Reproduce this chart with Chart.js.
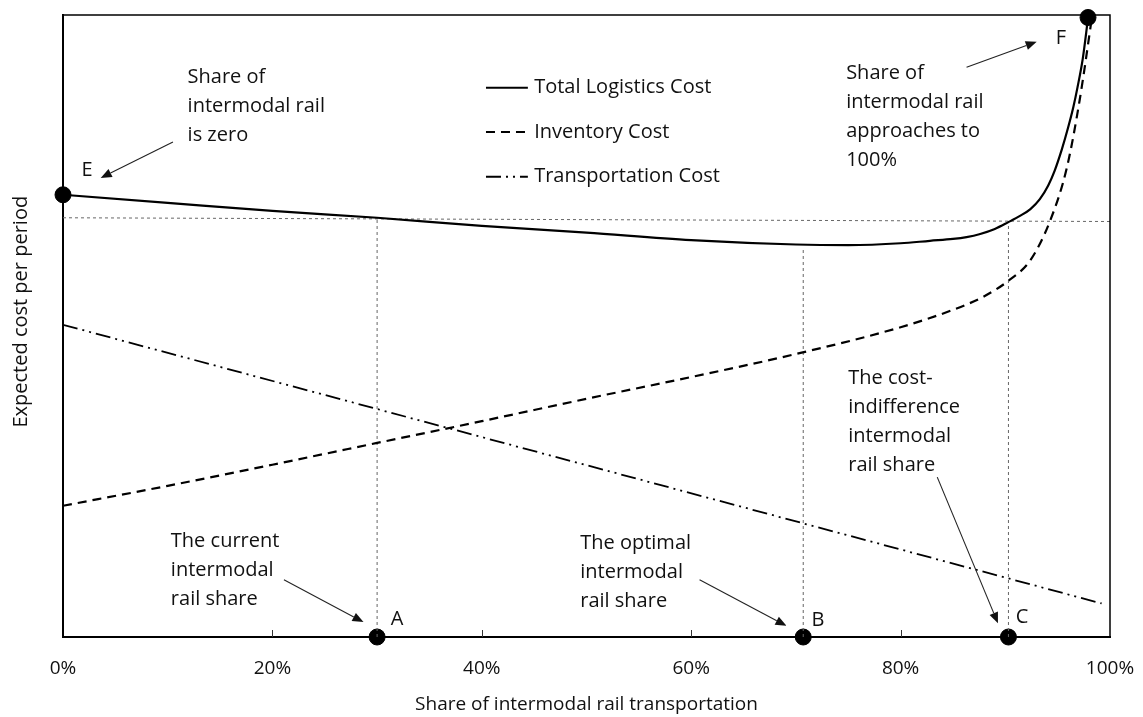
<!DOCTYPE html>
<html>
<head>
<meta charset="utf-8">
<script src="https://cdn.jsdelivr.net/npm/chart.js@4.4.1/dist/chart.umd.min.js"></script>
<style>
  html, body { margin: 0; padding: 0; background: #fff; }
</style>
</head>
<body>
<canvas id="chart" width="1143" height="717"></canvas>
<script>
// share of intermodal rail (%) vs expected cost per period (arbitrary units 0-100)

const totalShare = [0, 10, 20, 30, 40, 50, 60, 70, 75, 80, 82.8, 85, 86.3, 87.6, 89.0, 90.3, 91.4, 92.4, 93.3, 94.1, 94.7, 95.4, 96.0, 96.5, 96.9, 97.4, 97.9];
const totalCost  = [71.1, 69.8, 68.5, 67.4, 66.1, 65.0, 63.8, 63.1, 63.0, 63.3, 63.7, 64.0, 64.3, 64.8, 65.6, 66.7, 67.7, 68.8, 70.4, 72.6, 74.9, 78.4, 81.9, 85.2, 88.4, 93.0, 99.5];

const invShare = [0, 10, 20, 30, 40, 50, 60, 70, 80, 85, 87.9, 90.4, 92.4, 94.3, 95.9, 97.1, 98.1, 98.3];
const invCost  = [21.1, 24.3, 27.7, 31.2, 34.7, 38.3, 41.8, 45.5, 49.8, 52.6, 54.7, 57.4, 60.6, 67.0, 75.6, 86.3, 97.6, 100];

const transShare = [0, 99.2];
const transCost  = [50.2, 5.4];

// key points E, F and the shares A, B, C
const pointNames = ["E", "F", "A", "B", "C"];
const pointShare = [0, 97.9, 30, 70.7, 90.3];
const pointCost  = [71.1, 99.6, 0, 0, 0];

// equal-cost guide line and the drop lines
const guideShare = [0, 100];
const guideCost  = [67.4, 66.8];
const dropTops   = [67.3, 62.7, 66.8];

const xTickValues = [0, 20, 40, 60, 80, 100];

const FONT = "'Open Sans', sans-serif";
const TXT = "#111";

const notes = [
  { lines: ["Share of", "intermodal rail", "is zero"], x: 11.9, y: 90.0 },
  { lines: ["Share of", "intermodal rail", "approaches to", "100%"], x: 74.8, y: 90.7 },
  { lines: ["The current", "intermodal", "rail share"], x: 10.3, y: 15.4 },
  { lines: ["The optimal", "intermodal", "rail share"], x: 49.4, y: 15.1 },
  { lines: ["The cost-", "indifference", "intermodal", "rail share"], x: 75.0, y: 41.6 }
];
const letters = [
  { t: "E", x: 2.3, y: 75.1 },
  { t: "F", x: 95.3, y: 96.3 },
  { t: "A", x: 31.9, y: 2.9 },
  { t: "B", x: 72.1, y: 2.7 },
  { t: "C", x: 91.6, y: 3.1 }
];
const arrows = [
  [10.5, 79.6, 3.6, 73.8],
  [86.3, 91.6, 93.0, 95.7],
  [21.1, 9.2, 28.7, 2.4],
  [60.8, 9.2, 69.1, 1.8],
  [83.5, 25.7, 89.3, 2.2]
];
const legendItems = [
  { t: "Total Logistics Cost", dash: [], y: 88.3 },
  { t: "Inventory Cost", dash: [9, 6], y: 81.2 },
  { t: "Transportation Cost", dash: [15, 5, 2, 5, 2, 5], y: 74.0 }
];

const xy = (xs, ys) => xs.map((x, i) => ({ x: x, y: ys[i] }));

const drops = pointShare.slice(2).map((s, i) => ({
  type: "line",
  data: [{ x: s, y: 0 }, { x: s, y: dropTops[i] }],
  borderColor: "#666",
  borderWidth: 1,
  borderDash: [3, 3],
  pointRadius: 0
}));

const extras = {
  id: "extras",
  afterDatasetsDraw(chart) {
    const { ctx, chartArea: a } = chart;
    const xs = chart.scales.x, ys = chart.scales.y;
    const px = (v) => xs.getPixelForValue(v);
    const py = (v) => ys.getPixelForValue(v);
    ctx.save();

    // top and right frame
    ctx.strokeStyle = "#000";
    ctx.lineWidth = 1.5;
    ctx.beginPath();
    ctx.moveTo(a.left, a.top);
    ctx.lineTo(a.right, a.top);
    ctx.lineTo(a.right, a.bottom);
    ctx.stroke();

    // small tick marks pointing inside
    ctx.strokeStyle = "#333";
    ctx.lineWidth = 1;
    xs.ticks.forEach((t) => {
      if (t.value <= 0 || t.value >= 100) return;
      const x = Math.round(px(t.value)) + 0.5;
      ctx.beginPath();
      ctx.moveTo(x, a.bottom);
      ctx.lineTo(x, a.bottom - 7);
      ctx.stroke();
    });

    ctx.fillStyle = TXT;
    ctx.font = "20px " + FONT;
    ctx.textBaseline = "middle";
    ctx.textAlign = "left";
    notes.forEach((n) => {
      n.lines.forEach((l, i) => ctx.fillText(l, px(n.x), py(n.y) + i * 29));
    });
    ctx.textAlign = "center";
    letters.forEach((l) => ctx.fillText(l.t, px(l.x), py(l.y)));

    // arrows
    ctx.strokeStyle = "#222";
    ctx.fillStyle = "#111";
    ctx.lineWidth = 1.1;
    arrows.forEach((ar) => {
      const x1 = px(ar[0]), y1 = py(ar[1]), x2 = px(ar[2]), y2 = py(ar[3]);
      const ang = Math.atan2(y2 - y1, x2 - x1);
      const hl = 11, hw = 4.5;
      ctx.beginPath();
      ctx.moveTo(x1, y1);
      ctx.lineTo(x2 - hl * Math.cos(ang), y2 - hl * Math.sin(ang));
      ctx.stroke();
      ctx.beginPath();
      ctx.moveTo(x2, y2);
      ctx.lineTo(x2 - hl * Math.cos(ang) + hw * Math.sin(ang), y2 - hl * Math.sin(ang) - hw * Math.cos(ang));
      ctx.lineTo(x2 - hl * Math.cos(ang) - hw * Math.sin(ang), y2 - hl * Math.sin(ang) + hw * Math.cos(ang));
      ctx.closePath();
      ctx.fill();
    });

    // legend inside the plot
    legendItems.forEach((it) => {
      const y = py(it.y);
      ctx.strokeStyle = "#000";
      ctx.lineWidth = 2;
      ctx.setLineDash(it.dash);
      ctx.beginPath();
      ctx.moveTo(px(40.4), y);
      ctx.lineTo(px(44.4), y);
      ctx.stroke();
      ctx.setLineDash([]);
      ctx.fillStyle = TXT;
      ctx.textAlign = "left";
      ctx.fillText(it.t, px(45.0), y);
    });

    // y title
    ctx.translate(a.left - 42, py(52.3));
    ctx.rotate(-Math.PI / 2);
    ctx.textAlign = "center";
    ctx.fillText("Expected cost per period", 0, 0);
    ctx.restore();
  }
};

new Chart(document.getElementById("chart"), {
  type: "line",
  data: {
    datasets: [
      {
        label: "Total Logistics Cost",
        data: xy(totalShare, totalCost),
        borderColor: "#000",
        borderWidth: 2.2,
        pointRadius: 0,
        cubicInterpolationMode: "monotone"
      },
      {
        label: "Inventory Cost",
        data: xy(invShare, invCost),
        borderColor: "#000",
        borderWidth: 2.2,
        borderDash: [9, 6],
        pointRadius: 0,
        cubicInterpolationMode: "monotone"
      },
      {
        label: "Transportation Cost",
        data: xy(transShare, transCost),
        borderColor: "#000",
        borderWidth: 1.8,
        borderDash: [15, 5, 2, 5, 2, 5],
        pointRadius: 0
      },
      {
        label: "guide",
        data: xy(guideShare, guideCost),
        borderColor: "#666",
        borderWidth: 1,
        borderDash: [3, 3],
        pointRadius: 0
      },
      ...drops,
      {
        type: "scatter",
        label: "points",
        data: xy(pointShare, pointCost),
        pointRadius: 8,
        pointBackgroundColor: "#000",
        pointBorderColor: "#000",
        clip: false
      }
    ]
  },
  options: {
    responsive: false,
    animation: false,
    layout: { padding: { top: 15, right: 33, left: 0, bottom: 0 } },
    plugins: {
      legend: { display: false },
      tooltip: { enabled: false }
    },
    scales: {
      x: {
        type: "linear",
        min: 0,
        max: 100,
        afterFit: (s) => { s.height = 80; s.paddingLeft = 0; s.paddingRight = 0; },
        afterBuildTicks: (s) => { s.ticks = xTickValues.map((v) => ({ value: v })); },
        grid: { display: false, drawTicks: false },
        border: { display: true, color: "#000", width: 2 },
        ticks: {
          padding: 20,
          color: TXT,
          font: { family: FONT, size: 19 },
          callback: (v) => v + "%"
        },
        title: {
          display: true,
          text: "Share of intermodal rail transportation",
          color: TXT,
          font: { family: FONT, size: 19 },
          padding: { top: 0, bottom: 1 }
        }
      },
      y: {
        min: 0,
        max: 100,
        afterFit: (s) => { s.width = 63; },
        grid: { display: false, drawTicks: false },
        border: { display: true, color: "#000", width: 2 },
        ticks: { display: false }
      }
    }
  },
  plugins: [extras]
});
</script>
</body>
</html>
